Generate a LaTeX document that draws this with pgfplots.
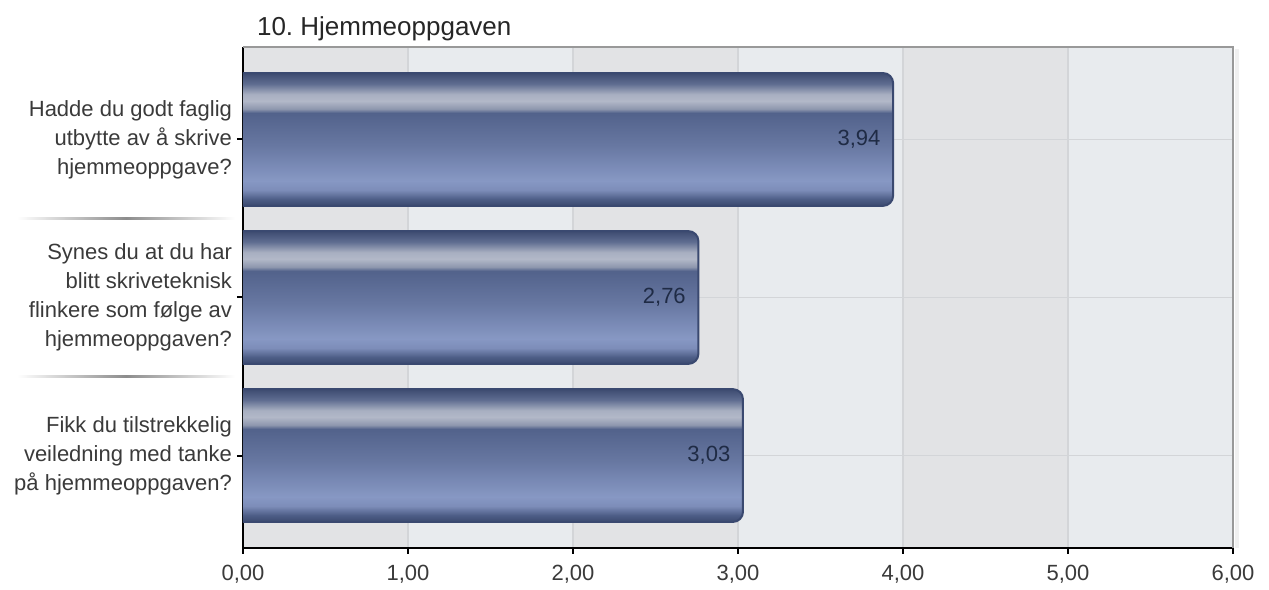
\documentclass[border=0pt]{standalone}
\usepackage{pgfplots}
\pgfplotsset{compat=1.18}
\usepackage{fontspec}
\setmainfont{Liberation Sans}
\usetikzlibrary{calc}

\definecolor{bandA}{HTML}{E2E3E5}
\definecolor{bandB}{HTML}{E8EBEE}
\definecolor{gridc}{HTML}{D3D5D8}
\definecolor{txt}{HTML}{3A3A3A}
\definecolor{barEdge}{HTML}{3A4970}
\definecolor{valtxt}{HTML}{1F2B45}
% bar gradient stops, bottom to top
\definecolor{s0}{HTML}{3B4A6F}
\definecolor{s1}{HTML}{4D5D86}
\definecolor{s2}{HTML}{7D8DB9}
\definecolor{s3}{HTML}{8798C4}
\definecolor{s4}{HTML}{6878A2}
\definecolor{s5}{HTML}{52628B}
\definecolor{s6}{HTML}{8E97AE}
\definecolor{s7}{HTML}{B2B8C8}
\definecolor{s8}{HTML}{A8AFC1}
\definecolor{s9}{HTML}{5E6C90}
\definecolor{s10}{HTML}{3D4B70}
\pgfdeclareverticalshading{barshade}{100bp}{%
  color(0bp)=(s0); color(25bp)=(s0); color(27.5bp)=(s1); color(31bp)=(s2);
  color(34.5bp)=(s3); color(47.5bp)=(s4); color(60bp)=(s5); color(61.5bp)=(s6);
  color(64.5bp)=(s7); color(67bp)=(s8); color(71bp)=(s9); color(75bp)=(s10);
  color(100bp)=(s10)}

\pgfplotsset{
  hbar/.style={shade, shading=barshade, draw=barEdge, line width=1pt, rounded corners=5pt},
}

\begin{document}
\frenchspacing
\begin{tikzpicture}
\begin{axis}[
    name=ax, at={(0,0)}, anchor=south west,
    set layers,
    width=495pt, height=250.5pt, scale only axis,
    xmin=0, xmax=6, ymin=-0.585, ymax=2.585,
    y dir=reverse,
    axis lines*=left,
    axis line style={black, line width=1pt},
    axis background/.style={fill=bandB},
    tick align=outside, major tick length=3pt,
    tick style={black, line width=1pt},
    xtick={0,1,2,3,4,5,6},
    ytick={0,1,2},
    yticklabels={
      {Hadde du godt faglig\\utbytte av å skrive\\hjemmeoppgave?},
      {Synes du at du har\\blitt skriveteknisk\\flinkere som følge av\\hjemmeoppgaven?},
      {Fikk du tilstrekkelig\\veiledning med tanke\\på hjemmeoppgaven?}},
    yticklabel style={align=right, text=txt, font=\fontsize{11}{14.5}\selectfont, xshift=1pt},
    xticklabel={\pgfmathprintnumber[fixed, fixed zerofill, precision=2, use comma, assume math mode=true]{\tick}},
    xticklabel style={text=txt, font=\fontsize{11}{13}\selectfont, yshift=-2pt},
    xmajorgrids, ymajorgrids,
    grid style={gridc, line width=0.8pt},
    title={10. Hjemmeoppgaven},
    title style={at={(0,1)}, anchor=base west, xshift=3.5pt, yshift=-0.5pt,
      font=\fontsize{13}{15}\selectfont, text=black!85},
  ]
  \begin{pgfonlayer}{axis background}
    \fill[bandA] (axis cs:0,-0.585) rectangle (axis cs:1,2.585);
    \fill[bandA] (axis cs:2,-0.585) rectangle (axis cs:3,2.585);
    \fill[bandA] (axis cs:4,-0.585) rectangle (axis cs:5,2.585);
  \end{pgfonlayer}

  % bars
  \addplot[hbar] coordinates {(-0.2,-0.42) (3.94,-0.42) (3.94,0.42) (-0.2,0.42)} --cycle;
  \addplot[hbar] coordinates {(-0.2,0.58) (2.76,0.58) (2.76,1.42) (-0.2,1.42)} --cycle;
  \addplot[hbar] coordinates {(-0.2,1.58) (3.03,1.58) (3.03,2.42) (-0.2,2.42)} --cycle;

  % value labels
  \addplot[only marks, mark=none, point meta=x,
    nodes near coords={\pgfmathprintnumber[fixed, fixed zerofill, precision=2, use comma, assume math mode=true]{\pgfplotspointmeta}},
    nodes near coords style={anchor=east, xshift=-2.8pt, text=valtxt, font=\fontsize{11}{13}\selectfont}]
    coordinates {(3.94,0) (2.76,1) (3.03,2)};

  \coordinate (sep1) at (axis cs:0,0.5);
  \coordinate (sep2) at (axis cs:0,1.5);
  \coordinate (tr) at (rel axis cs:1,1);
  \coordinate (tl) at (rel axis cs:0,1);
  \coordinate (br) at (rel axis cs:1,0);
\end{axis}

% frame top/right
\fill[black!6] ($(tr)+(0.8pt,-1pt)$) rectangle ($(br)+(3pt,0pt)$);
\draw[black!40, line width=1pt] (tl) -- (tr) -- (br);
% separators between question labels
\foreach \s in {sep1,sep2}
  \shade[left color=white, right color=white, middle color=black!45]
    ($(\s)+(-113pt,-0.3pt)$) rectangle ($(\s)+(-4pt,0.3pt)$);

\path ($(ax.south west)+(-121.5pt,-18.5pt)$) rectangle ++(634.5pt,292.5pt);
\end{tikzpicture}
\end{document}
